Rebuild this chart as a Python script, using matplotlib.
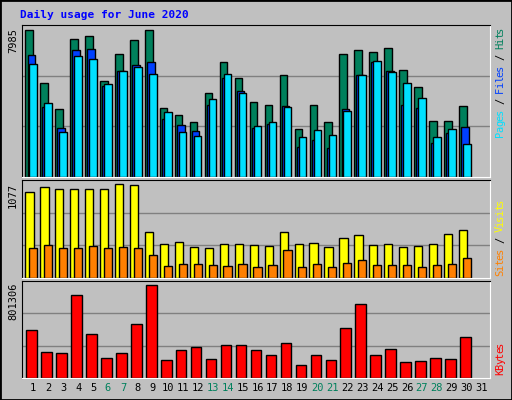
import numpy as np
import matplotlib
matplotlib.use("Agg")
import matplotlib.pyplot as plt

days = list(range(1, 32))
hits = [7985,5100,3700,7490,7650,5200,6680,7420,7985,3740,3360,2980,4540,6210,5340,4040,
        3920,5540,2600,3920,2980,6680,6890,6780,7000,5820,4850,3030,3030,3830]
files = [6630,3770,2680,6900,6950,4920,5740,6060,6230,3160,2840,2500,3900,5340,4640,2680,
         2860,3860,1640,2020,1590,3700,5500,6250,5750,3900,3730,1860,2390,2710]
pages = [6140,4000,2460,6580,6400,5060,5740,5960,5600,3500,2460,2220,4240,5600,4530,2770,
         3000,3800,2180,2560,2300,3580,5500,6300,5700,5100,4300,2180,2620,1810]
visits = [983,1038,1017,1017,1017,1017,1077,1066,521,389,411,357,346,389,389,377,
          367,521,389,396,357,459,489,381,389,357,372,389,506,544]
sites = [342,377,342,342,365,342,354,342,260,136,159,159,148,136,159,121,
         148,323,121,159,121,167,209,148,148,148,121,148,159,225]
kbytes = [413000,227000,219000,717000,380000,169000,219000,464000,801306,152000,244000,270000,160000,287000,287000,244000,
          194000,298000,110000,194000,152000,430000,641000,194000,253000,135000,143000,169000,160000,352000]
weekend = {6, 7, 13, 14, 20, 21, 27, 28}

BG = "#C0C0C0"
W, H = 512, 400
fig = plt.figure(figsize=(W/100, H/100), dpi=100, facecolor=BG)

def ax_px(l, t, r, b):
    return fig.add_axes([l/W, 1-b/H, (r-l)/W, (b-t)/H])

L, R = 22, 490
ax1 = ax_px(L, 25, R, 177)
ax2 = ax_px(L, 180, R, 278)
ax3 = ax_px(L, 281, R, 378)
x = np.array(days[:30])
ek = dict(edgecolor="black", linewidth=1)
ax1.bar(x-0.27, hits, 0.5, color="#00805C", **ek)
ax1.bar(x-0.13, files, 0.5, color="#0040FF", **ek)
ax1.bar(x, pages, 0.5, color="#00E0FF", **ek)
ax2.bar(x-0.25, visits, 0.55, color="#FFFF00", **ek)
ax2.bar(x, sites, 0.55, color="#FF8000", **ek)
ax3.bar(x-0.1, kbytes, 0.7, color="#FF0000", **ek)

for ax, mx, frac in [(ax1, max(hits), 0.97), (ax2, max(visits), 0.96), (ax3, max(kbytes), 0.96)]:
    ax.set_facecolor(BG)
    ax.set_xlim(0.25, 31.55)
    top = mx/frac
    ax.set_ylim(0, top)
    for g in (top/3, 2*top/3):
        ax.axhline(g, color="#808080", lw=1, zorder=0)
    ax.set_xticks([])
    ax.set_yticks([])
    for s in ax.spines.values():
        s.set_color("black")
    ax.spines["bottom"].set_color("white")
    ax.spines["right"].set_color("white")

mono = dict(family="DejaVu Sans Mono", fontsize=7.5)
fig.text(20/W, 1-15/H, "Daily usage for June 2020", color="#0000FF", fontweight="bold",
         va="center", ha="left", family="DejaVu Sans Mono", fontsize=8)
fig.text(13/W, 1-28/H, "7985", rotation=90, va="top", ha="center", **mono)
fig.text(13/W, 1-183/H, "1077", rotation=90, va="top", ha="center", **mono)
fig.text(13/W, 1-283/H, "801306", rotation=90, va="top", ha="center", **mono)

def right_label(ybottom, parts):
    y = 1-ybottom/H
    step = 5.5/H
    for txt, col in parts:
        for ch in txt:
            fig.text(500/W, y, ch, rotation=90, va="center", ha="center", color=col, **mono)
            y += step
right_label(134, [("Pages", "#00E0FF"), (" / ", "black"), ("Files", "#0040FF"), (" / ", "black"), ("Hits", "#00805C")])
right_label(273, [("Sites", "#FF8000"), (" / ", "black"), ("Visits", "#FFFF00")])
right_label(372, [("KBytes", "#FF0000")])

for d in days:
    xp = (L + (d-0.25)/(31.55-0.25)*(R-L))/W
    fig.text(xp, 1-388/H, str(d), ha="center", va="center",
             color="#00805C" if d in weekend else "black", **mono)

fig.add_artist(plt.Rectangle((0, 0), 1, 1, transform=fig.transFigure, fill=False, edgecolor="black", lw=2))
fig.savefig("out.png", dpi=100, facecolor=BG)
